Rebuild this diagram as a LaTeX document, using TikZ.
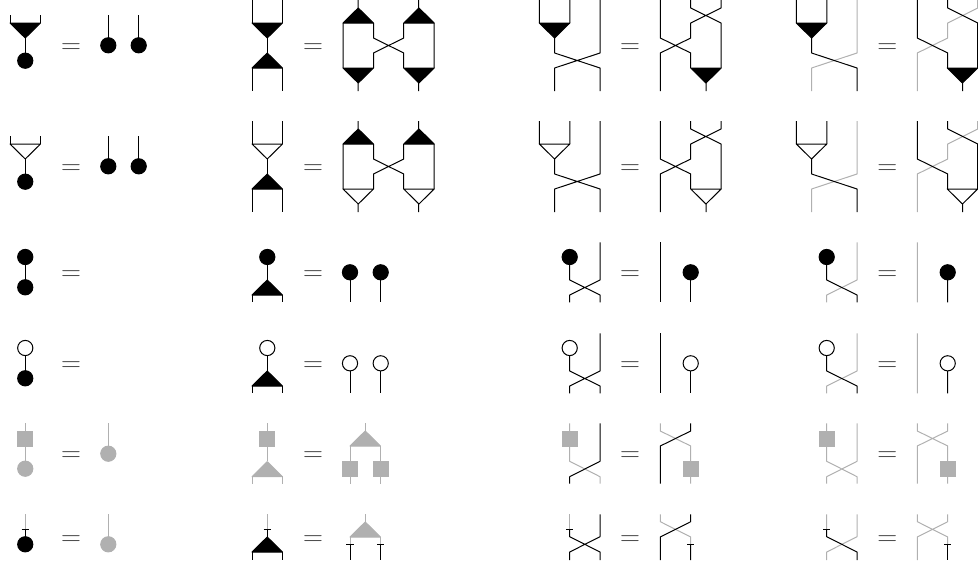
\documentclass[tikz,border=0pt]{standalone}
\definecolor{gry}{HTML}{B0B0B0}
\tikzset{
  blk/.style={draw=black,line width=0.75pt,line join=round},
  gr/.style={draw=gry,line width=0.75pt,line join=round},
  eqn/.style={inner sep=0pt,yshift=-1.9pt,text=black!75,font=\fontsize{20}{24}\selectfont}
}
\newcommand\tridn[4]{\filldraw[draw=#1,fill=#2,line width=0.75pt,line join=round] (#3,#4) -- (#3+30.5,#4) -- (#3+15.25,#4+15) -- cycle;}
\newcommand\triup[4]{\filldraw[draw=#1,fill=#2,line width=0.75pt,line join=round] (#3,#4) -- (#3+30.5,#4) -- (#3+15.25,#4-15) -- cycle;}
\newcommand\ball[4]{\filldraw[draw=#1,fill=#2,line width=0.75pt] (#3,#4) circle[radius=7.6];}
\newcommand\sq[2]{\fill[gry] (#1-8,#2-8) rectangle (#1+8,#2+8);}
\newcommand\tbar[2]{\draw[blk] (#1-3.7,#2) -- (#1+3.7,#2);}
\begin{document}
\begin{tikzpicture}[x=0.75pt,y=-0.75pt]
\useasboundingbox (0,0) rectangle (978,564);
% rows 1 and 2
\foreach \off/\fc/\rn in {0/black/a,121/white/b}{
\begin{scope}[yshift=-0.75*\off]
  % col 1
  \draw[blk] (10,15) -- (10,23) (40.5,15) -- (40.5,23) (25.25,38) -- (25.25,61);
  \tridn{black}{\fc}{10}{23}
  \ball{black}{black}{25.25}{60.7}
  \node[eqn] (e\rn1) at (71,46.5) {$=$};
  \draw[blk] (108.3,15) -- (108.3,45) (138.7,15) -- (138.7,45);
  \ball{black}{black}{108.3}{45.3}
  \ball{black}{black}{138.7}{45.3}
  % col 2
  \draw[blk] (252,0) -- (252,23) (282.7,0) -- (282.7,23) (267.3,38) -- (267.3,53)
     (252,68) -- (252,91) (282.7,68) -- (282.7,91);
  \tridn{black}{\fc}{252}{23}
  \triup{black}{black}{252}{68}
  \node[eqn] (f\rn1) at (313,46.5) {$=$};
  \draw[blk] (358,0) -- (358,8) (418.7,0) -- (418.7,8) (343,23) -- (343,68)
     (373.5,23) -- (373.5,38) -- (403.7,53) -- (403.7,68)
     (403.7,23) -- (403.7,38) -- (373.5,53) -- (373.5,68)
     (434.2,23) -- (434.2,68) (358,83) -- (358,91) (418.7,83) -- (418.7,91);
  \triup{black}{black}{343}{23}
  \triup{black}{black}{403.7}{23}
  \tridn{black}{\fc}{343}{68}
  \tridn{black}{\fc}{403.7}{68}
  % col 3
  \draw[blk] (539.3,0) -- (539.3,23) (569.8,0) -- (569.8,23)
     (554.6,38) -- (554.6,53) -- (600,68) -- (600,91)
     (600,0) -- (600,53) -- (554.6,68) -- (554.6,91);
  \tridn{black}{\fc}{539.3}{23}
  \node[eqn] (g\rn1) at (630,46.5) {$=$};
  \draw[blk] (660.3,0) -- (660.3,38) -- (690.7,53) -- (690.7,68)
     (690.7,0) -- (690.7,8) -- (721,23) -- (721,68)
     (721,0) -- (721,8) -- (690.7,23) -- (690.7,38) -- (660.3,53) -- (660.3,91)
     (706,83) -- (706,91);
  \tridn{black}{\fc}{690.7}{68}
  % col 4
  \draw[gr] (857,0) -- (857,53) -- (811.6,68) -- (811.6,91)
     (977.7,0) -- (977.7,8) -- (947.7,23) -- (947.7,38) -- (917.3,53) -- (917.3,91);
  \draw[blk] (796.3,0) -- (796.3,23) (826.8,0) -- (826.8,23)
     (811.6,38) -- (811.6,53) -- (857,68) -- (857,91);
  \tridn{black}{\fc}{796.3}{23}
  \node[eqn] (h\rn1) at (887.3,46.5) {$=$};
  \draw[blk] (917.3,0) -- (917.3,38) -- (947.7,53) -- (947.7,68)
     (947.7,0) -- (947.7,8) -- (977.7,23) -- (977.7,68)
     (962.7,83) -- (962.7,91);
  \tridn{black}{\fc}{947.2}{68}
\end{scope}
}
% rows 3 and 4
\foreach \off/\fc/\rn in {0/black/c,91/white/d}{
\begin{scope}[yshift=-0.75*\off]
  % col 1
  \draw[blk] (25.25,257) -- (25.25,287);
  \ball{black}{\fc}{25.25}{257}
  \ball{black}{black}{25.25}{287.3}
  \node[eqn] (e\rn1) at (71,273.3) {$=$};
  % col 2
  \draw[blk] (267.3,257) -- (267.3,280) (252,295) -- (252,302.3) (282.7,295) -- (282.7,302.3);
  \ball{black}{\fc}{267.3}{257}
  \triup{black}{black}{252}{295}
  \node[eqn] (f\rn1) at (313,273.3) {$=$};
  \draw[blk] (350,272.3) -- (350,302.3) (380.7,272.3) -- (380.7,302.3);
  \ball{black}{\fc}{350}{272.3}
  \ball{black}{\fc}{380.7}{272.3}
  % col 3
  \draw[blk] (569.7,257) -- (569.7,280) -- (600,295) -- (600,302.3)
     (600,242.3) -- (600,280) -- (569.7,295) -- (569.7,302.3);
  \ball{black}{\fc}{569.7}{257}
  \node[eqn] (g\rn1) at (630,273.3) {$=$};
  \draw[blk] (660.3,242.3) -- (660.3,302.3) (690.7,272.3) -- (690.7,302.3);
  \ball{black}{\fc}{690.7}{272.3}
  % col 4
  \draw[gr] (857,242.3) -- (857,280) -- (826.7,295) -- (826.7,302.3) (917.3,242.3) -- (917.3,302.3);
  \draw[blk] (826.7,257) -- (826.7,280) -- (857,295) -- (857,302.3) (947.7,272.3) -- (947.7,302.3);
  \ball{black}{\fc}{826.7}{257}
  \node[eqn] (h\rn1) at (887.3,273.3) {$=$};
  \ball{black}{\fc}{947.7}{272.3}
\end{scope}
}
% row 5
\draw[gr] (25.25,423.3) -- (25.25,468);
\sq{25.25}{438.7}
\ball{gry}{gry}{25.25}{468.7}
\node[eqn] (ee1) at (71,454) {$=$};
\draw[gr] (108.3,423.3) -- (108.3,453);
\ball{gry}{gry}{108.3}{453.7}
\draw[gr] (267.3,423.3) -- (267.3,461.3) (252,476.7) -- (252,483.7) (282.7,476.7) -- (282.7,483.7);
\sq{267.3}{438.7}
\triup{gry}{gry}{252}{476.7}
\node[eqn] (fe1) at (313,454) {$=$};
\draw[gr] (365.3,423.3) -- (365.3,431) (350,446) -- (350,483.7) (380.7,446) -- (380.7,483.7);
\triup{gry}{gry}{350}{446}
\sq{350}{468.7}
\sq{380.7}{468.7}
\draw[gr] (569.7,423.3) -- (569.7,461.3) -- (600,476.7) -- (600,483.7);
\draw[blk] (600,423.3) -- (600,461.3) -- (569.7,476.7) -- (569.7,483.7);
\sq{569.7}{438.7}
\node[eqn] (ge1) at (630,454) {$=$};
\draw[gr] (660.3,423.3) -- (660.3,431) -- (690.7,446) -- (690.7,483.7);
\draw[blk] (690.7,423.3) -- (690.7,431) -- (660.3,446) -- (660.3,483.7);
\sq{690.7}{468.7}
\draw[gr] (826.7,423.3) -- (826.7,461.3) -- (857,476.7) -- (857,483.7)
   (857,423.3) -- (857,461.3) -- (826.7,476.7) -- (826.7,483.7)
   (917.3,423.3) -- (917.3,431) -- (947.7,446) -- (947.7,483.7)
   (947.7,423.3) -- (947.7,431) -- (917.3,446) -- (917.3,483.7);
\sq{826.7}{438.7}
\node[eqn] (he1) at (887.3,454) {$=$};
\sq{947.7}{468.7}
% row 6
\draw[gr] (25.25,514.3) -- (25.25,529);
\draw[blk] (25.25,529) -- (25.25,538);
\tbar{25.25}{529}
\ball{black}{black}{25.25}{544.3}
\node[eqn] (ef1) at (71,537.7) {$=$};
\draw[gr] (108.3,514.3) -- (108.3,544);
\ball{gry}{gry}{108.3}{544.3}
\draw[gr] (267.3,514.3) -- (267.3,529);
\draw[blk] (267.3,529) -- (267.3,537) (252,552) -- (252,560) (282.7,552) -- (282.7,560);
\tbar{267.3}{529}
\triup{black}{black}{252}{552}
\node[eqn] (ff1) at (313,537.7) {$=$};
\draw[gr] (365.3,514.3) -- (365.3,522) (350,537) -- (350,544.3) (380.7,537) -- (380.7,544.3);
\triup{gry}{gry}{350}{537}
\draw[blk] (350,544.3) -- (350,560) (380.7,544.3) -- (380.7,560);
\tbar{350}{544.3}
\tbar{380.7}{544.3}
\draw[gr] (569.7,514.3) -- (569.7,529);
\draw[blk] (569.7,529) -- (569.7,536.7) -- (600,552) -- (600,560)
   (600,514.3) -- (600,536.7) -- (569.7,552) -- (569.7,560);
\tbar{569.7}{529}
\node[eqn] (gf1) at (630,537.7) {$=$};
\draw[gr] (660.3,514.3) -- (660.3,521.7) -- (690.7,537) -- (690.7,544.3);
\draw[blk] (690.7,514.3) -- (690.7,521.7) -- (660.3,537) -- (660.3,560) (690.7,544.3) -- (690.7,560);
\tbar{690.7}{544.3}
\draw[gr] (826.7,514.3) -- (826.7,529) (857,514.3) -- (857,536.7) -- (826.7,552) -- (826.7,560);
\draw[blk] (826.7,529) -- (826.7,536.7) -- (857,552) -- (857,560);
\tbar{826.7}{529}
\node[eqn] (hf1) at (887.3,537.7) {$=$};
\draw[gr] (917.3,514.3) -- (917.3,521.7) -- (947.7,537) -- (947.7,544.3)
   (947.7,514.3) -- (947.7,521.7) -- (917.3,537) -- (917.3,560);
\draw[blk] (947.7,544.3) -- (947.7,560);
\tbar{947.7}{544.3}
\end{tikzpicture}
\end{document}
